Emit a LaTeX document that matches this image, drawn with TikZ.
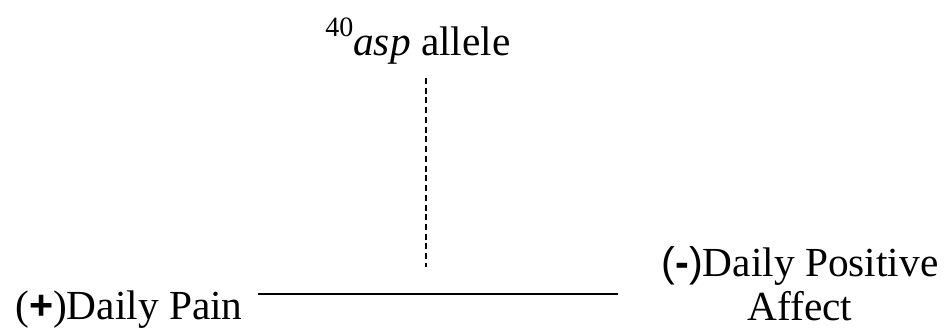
\documentclass[tikz,border=0pt]{standalone}
\usepackage{fontspec}
\setmainfont{Liberation Serif}
\setsansfont{Liberation Sans}
\usepackage{tikz}
\usetikzlibrary{positioning}
\tikzset{
  vlbl/.style={font=\fontsize{31}{33}\selectfont,inner sep=0pt,text=black},
  path/.style={line width=1.1pt,draw=black},
  gpath/.style={line width=1.5pt,draw=black,dash pattern=on 4.5pt off 2.8pt},
}
\newcommand{\sgn}[1]{{\sffamily\bfseries #1}}
\newcommand{\supnum}[1]{\raisebox{14pt}{\fontsize{21}{21}\selectfont #1}}
\begin{document}
\begin{tikzpicture}[x=0.75pt,y=0.75pt]
  \useasboundingbox (0,0) rectangle (946,330);
  % variables
  \node[vlbl,anchor=base west] (allele) at (325,275) {\supnum{40}\textit{asp} allele};
  \node[vlbl,anchor=base west] (pain) at (15,11) {(\sgn{+})Daily Pain};
  \node[vlbl,anchor=base,align=center] (affect) at (800,10) {{\sffamily(\textbf{-})}Daily Positive\\Affect};
  % path and moderator
  \coordinate (pStart) at (258,36);
  \coordinate (pEnd) at (618,36);
  \coordinate (gStart) at (426,252);
  \coordinate (gEnd) at (426,63);
  \draw[path] (pStart) -- (pEnd);
  \draw[gpath] (gStart) -- (gEnd);
\end{tikzpicture}
\end{document}
